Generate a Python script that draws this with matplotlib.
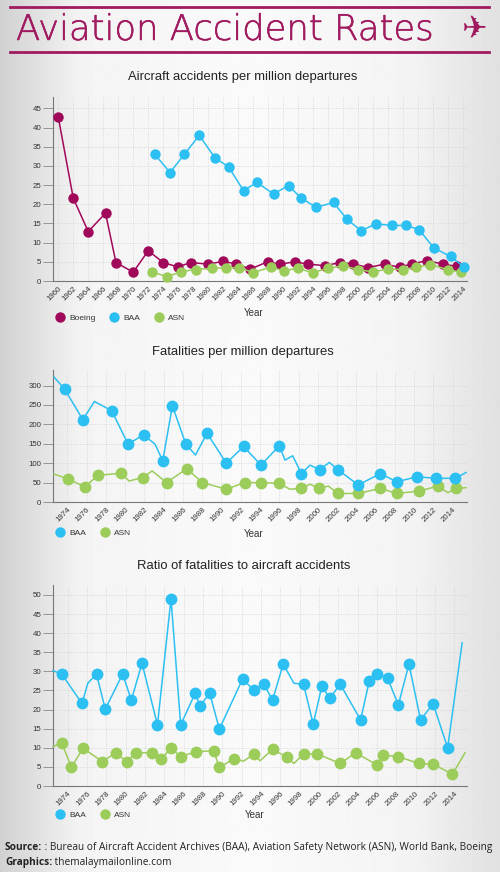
import numpy as np
import matplotlib
matplotlib.use("Agg")
import matplotlib.pyplot as plt
import matplotlib.patheffects as pe
from matplotlib.lines import Line2D

# --------------------------------------------------
# Data
# --------------------------------------------------
# Aircraft accidents per million departures
boeing_years = [1960, 1962, 1964, 1966.3, 1967.7, 1970, 1972, 1974, 1975.9, 1977.7,
                1980, 1981.9, 1983.7, 1985.6, 1987.9, 1989.6, 1991.5, 1993.3, 1995.6,
                1997.5, 1999.3, 2001.3, 2003.5, 2005.5, 2007.2, 2009.2, 2011.3, 2013.2]
boeing_acc = [42.8, 21.6, 12.9, 17.7, 4.8, 2.3, 7.9, 4.8, 3.7, 4.8,
              4.4, 5.1, 4.5, 3.1, 5.0, 4.4, 5.0, 4.4, 4.0,
              4.8, 4.5, 3.5, 4.4, 3.6, 4.5, 5.3, 4.4, 3.8]

baa_acc_years = [1972.9, 1974.9, 1976.8, 1978.8, 1980.9, 1982.7, 1984.7, 1986.5, 1988.7,
                 1990.7, 1992.4, 1994.4, 1996.7, 1998.5, 2000.4, 2002.3, 2004.5, 2006.4,
                 2008.1, 2010.1, 2012.3, 2014.1]
baa_acc = [33.0, 28.3, 33.0, 38.0, 32.1, 29.8, 23.6, 25.7, 22.7,
           24.9, 21.6, 19.2, 20.5, 16.1, 13.1, 14.9, 14.5, 14.5,
           13.4, 8.6, 6.4, 3.7]

asn_acc_years = [1972.5, 1974.5, 1976.3, 1978.3, 1980.5, 1982.4, 1984.1, 1986, 1988.3,
                 1990.1, 1991.9, 1993.9, 1996, 1998, 1999.9, 2001.9, 2004, 2006,
                 2007.7, 2009.6, 2011.9, 2013.7]
asn_acc = [2.4, 1.1, 2.4, 3.0, 3.3, 3.5, 3.5, 2.2, 3.6,
           2.7, 3.3, 2.2, 3.3, 4.0, 3.0, 2.4, 3.1, 3.0,
           3.6, 4.3, 3.0, 2.3]

# Fatalities per million departures (line vertices, markers flagged)
baa_fat_years = [1972.6, 1973.7, 1975.6, 1976.8, 1978.6, 1980.3, 1981.9, 1983.1, 1983.9,
                 1984.9, 1986.3, 1987.3, 1988.5, 1990.5, 1992.3, 1994.1, 1996, 1996.6,
                 1997.4, 1998.3, 1999.2, 2000.2, 2001.2, 2002.1, 2004.2, 2006.5, 2008.2,
                 2010.3, 2012.3, 2014.3, 2015.4]
baa_fat = [322, 291, 212, 259, 235, 149, 173, 149, 106,
           248, 149, 121, 177, 100, 143, 95, 145, 108,
           119, 73, 95, 83, 102, 83, 44, 73, 52,
           65, 61, 61, 76]
baa_fat_marked = [0, 1, 1, 0, 1, 1, 1, 0, 1,
                  1, 1, 0, 1, 1, 1, 1, 1, 0,
                  0, 1, 0, 1, 0, 1, 1, 1, 1,
                  1, 1, 1, 0]

asn_fat_years = [1972.6, 1974.1, 1975.8, 1977.2, 1979.6, 1980.4, 1981.8, 1982.8, 1984.3,
                 1986.4, 1988, 1990.5, 1992.4, 1994.1, 1996, 1997.1, 1998.3, 1999.2,
                 2000.1, 2001.1, 2002.1, 2004.2, 2006.5, 2008.2, 2010.5, 2012.5, 2013.5,
                 2014.4, 2015.4]
asn_fat = [72, 59, 39, 69, 74, 54, 63, 80, 50,
           86, 50, 33, 50, 50, 48, 33, 35, 46,
           35, 41, 22, 22, 35, 22, 28, 41, 24,
           35, 37]
asn_fat_marked = [0, 1, 1, 1, 1, 0, 1, 0, 1,
                  1, 1, 1, 1, 1, 1, 0, 1, 0,
                  1, 0, 1, 1, 1, 1, 1, 1, 0,
                  1, 0]

# Ratio of fatalities to aircraft accidents
baa_ratio_years = [1972.5, 1973.4, 1975.5, 1976.1, 1977, 1977.9, 1979.7, 1980.6, 1981.7,
                   1983.3, 1984.7, 1985.7, 1987.2, 1987.7, 1988.7, 1989.7, 1992.1, 1993.3,
                   1994.3, 1995.2, 1996.3, 1997.4, 1998.4, 1999.4, 2000.3, 2001.1, 2002.2,
                   2004.3, 2005.2, 2006, 2007.1, 2008.2, 2009.3, 2010.5, 2011.8, 2013.3,
                   2014.8]
baa_ratio = [30.2, 29.3, 21.6, 26.9, 29.3, 20.1, 29.3, 22.5, 32.1,
             16.0, 49.0, 16.0, 24.3, 20.9, 24.3, 14.9, 28.0, 25.0,
             26.6, 22.5, 31.9, 26.9, 26.6, 16.2, 26.2, 23.0, 26.6,
             17.3, 27.5, 29.3, 28.2, 21.2, 31.9, 17.3, 21.5, 10.0,
             37.5]
baa_ratio_marked = [0, 1, 1, 0, 1, 1, 1, 1, 1,
                    1, 1, 1, 1, 1, 1, 1, 1, 1,
                    1, 1, 1, 0, 1, 1, 1, 1, 1,
                    1, 1, 1, 1, 1, 1, 1, 1, 1,
                    0]

asn_ratio_years = [1972.5, 1973.4, 1974.4, 1975.6, 1977.6, 1979, 1980.1, 1981.1, 1982.7,
                   1983.7, 1984.7, 1985.7, 1987.3, 1989.1, 1989.7, 1991.2, 1992.2, 1993.3,
                   1993.9, 1995.2, 1996.7, 1997.4, 1998.4, 1999.8, 2002.2, 2003.8, 2006,
                   2006.6, 2008.2, 2010.3, 2011.8, 2013.8, 2015.1]
asn_ratio = [10.3, 11.3, 4.9, 9.9, 6.4, 8.7, 6.4, 8.7, 8.7,
             7.1, 9.9, 7.7, 9.0, 9.2, 4.9, 7.1, 6.5, 8.4,
             6.6, 9.6, 7.5, 5.9, 8.4, 8.4, 5.9, 8.7, 5.5,
             8.1, 7.7, 5.9, 5.7, 3.1, 8.7]
asn_ratio_marked = [0, 1, 1, 1, 1, 1, 1, 1, 1,
                    1, 1, 1, 1, 1, 1, 1, 0, 1,
                    0, 1, 1, 0, 1, 1, 1, 1, 1,
                    1, 1, 1, 1, 1, 0]

# --------------------------------------------------
# Styling
# --------------------------------------------------
W, H = 500, 872
MAG = "#a01a5f"
BOEING = "#a0085a"
BAA = "#2cc0f2"
ASN = "#9ccc5a"
TXT = "#333333"
FONT = "Liberation Sans"

plt.rcParams["font.family"] = [FONT, "DejaVu Sans"]


def px(x, y):
    return x / W, 1 - y / H


def rect(left, top, right, bottom):
    return [left / W, 1 - bottom / H, (right - left) / W, (bottom - top) / H]


fig = plt.figure(figsize=(W / 100, H / 100), dpi=100)

# soft grey gradient background
bg = fig.add_axes([0, 0, 1, 1], zorder=-10)
xs = np.linspace(0, 1, 400)
shade = np.interp(xs, [0, 0.16, 0.5, 0.82, 1], [0.82, 0.955, 0.98, 0.955, 0.88])
bg.imshow(np.tile(shade, (10, 1)), cmap="gray", vmin=0, vmax=1, aspect="auto",
          extent=[0, 1, 0, 1])
bg.set_axis_off()

# header
fig.add_artist(Line2D([10 / W, 489 / W], [1 - 7.5 / H] * 2, color=MAG, lw=2))
fig.add_artist(Line2D([10 / W, 489 / W], [1 - 52.5 / H] * 2, color=MAG, lw=2))
fig.text(*px(16, 40), "Aviation Accident Rates", fontsize=25.5, color=MAG,
         family="DejaVu Sans", fontweight="light", va="baseline", ha="left",
         path_effects=[pe.withStroke(linewidth=0.35, foreground=MAG)])
fig.text(*px(474, 29), "\u2708", fontsize=22, color=MAG, family="DejaVu Sans",
         va="center", ha="center")


def style_axes(ax, ylim, yticks, xlim, xticks):
    ax.set_facecolor("none")
    ax.set_xlim(*xlim)
    ax.set_ylim(*ylim)
    ax.set_yticks(yticks)
    ax.set_xticks(xticks)
    ax.set_xticklabels([str(x) for x in xticks], rotation=45, ha="right",
                       rotation_mode="anchor", fontsize=5.7, color=TXT)
    ax.tick_params(axis="y", labelsize=5.7, labelcolor=TXT, length=7, width=0.6,
                   color="#888888", pad=1.5)
    ax.tick_params(axis="x", length=0, pad=3)
    ax.grid(True, color="#d2d2d2", lw=0.6, ls=":")
    for s in ["top", "right"]:
        ax.spines[s].set_visible(False)
    for s in ["left", "bottom"]:
        ax.spines[s].set_color("#777777")
        ax.spines[s].set_linewidth(0.8)
    ax.set_axisbelow(True)


def add_series(ax, years, vals, color, marked=None, z=3, ms=7.5):
    ax.plot(years, vals, color=color, lw=1.1, zorder=z, clip_on=False)
    if marked is None:
        my, mv = years, vals
    else:
        my = [y for y, m in zip(years, marked) if m]
        mv = [v for v, m in zip(vals, marked) if m]
    ax.plot(my, mv, "o", color=color, ms=ms, mec="none", zorder=z, clip_on=False)


def add_legend(ax, items, x, y, xlabel_x, xlabel_y):
    handles = [Line2D([], [], marker="o", color=c, ls="none", ms=7.5, mec="none")
               for _, c in items]
    ax.legend(handles, [n for n, _ in items], loc="center left",
              bbox_to_anchor=px(x, y), bbox_transform=fig.transFigure, ncol=len(items),
              frameon=False, fontsize=6, handletextpad=0.1, columnspacing=1.2,
              labelcolor=TXT, borderaxespad=0, borderpad=0)
    fig.text(*px(xlabel_x, xlabel_y), "Year", fontsize=7, color=TXT,
             ha="center", va="center")


# --------------------------------------------------
# Chart 1: accidents per million departures
# --------------------------------------------------
fig.text(*px(243, 77), "Aircraft accidents per million departures", fontsize=9.4,
         color="#222222", ha="center", va="center")
ax1 = fig.add_axes(rect(53, 97, 467, 281))
style_axes(ax1, (0, 48), range(0, 50, 5), (1959.3, 2014.5), list(range(1960, 2015, 2)))
add_series(ax1, boeing_years, boeing_acc, BOEING, z=3)
add_series(ax1, asn_acc_years, asn_acc, ASN, z=4)
add_series(ax1, baa_acc_years, baa_acc, BAA, z=5)
add_legend(ax1, [("Boeing", BOEING), ("BAA", BAA), ("ASN", ASN)], 52, 318, 254, 313)

# --------------------------------------------------
# Chart 2: fatalities per million departures
# --------------------------------------------------
fig.text(*px(243, 352), "Fatalities per million departures", fontsize=9.4,
         color="#222222", ha="center", va="center")
ax2 = fig.add_axes(rect(53, 370, 467, 502))
style_axes(ax2, (0, 340), range(0, 301, 50), (1972.5, 2015.5), list(range(1974, 2015, 2)))
add_series(ax2, asn_fat_years, asn_fat, ASN, asn_fat_marked, z=3, ms=8.5)
add_series(ax2, baa_fat_years, baa_fat, BAA, baa_fat_marked, z=4, ms=8.5)
add_legend(ax2, [("BAA", BAA), ("ASN", ASN)], 52, 533, 254, 534)

# --------------------------------------------------
# Chart 3: ratio of fatalities to accidents
# --------------------------------------------------
fig.text(*px(244, 566), "Ratio of fatalities to aircraft accidents", fontsize=9.4,
         color="#222222", ha="center", va="center")
ax3 = fig.add_axes(rect(53, 585, 467, 786))
style_axes(ax3, (0, 52.6), range(0, 51, 5), (1972.5, 2015.3), list(range(1974, 2015, 2)))
add_series(ax3, asn_ratio_years, asn_ratio, ASN, asn_ratio_marked, z=3, ms=8.5)
add_series(ax3, baa_ratio_years, baa_ratio, BAA, baa_ratio_marked, z=4, ms=8.5)
add_legend(ax3, [("BAA", BAA), ("ASN", ASN)], 52, 815, 255, 815)

# --------------------------------------------------
# Footer: bold label, regular text placed right after it
# --------------------------------------------------
FOOT = dict(fontsize=7.3, family="Open Sans", color="#222222", va="center", ha="left")
src = fig.text(*px(5, 847), "Source:", fontweight="bold", **FOOT)
gfx = fig.text(*px(5, 862), "Graphics:", fontweight="bold", **FOOT)
fig.canvas.draw()
r = fig.canvas.get_renderer()
x_src = src.get_window_extent(r).x1 / fig.bbox.width
x_gfx = gfx.get_window_extent(r).x1 / fig.bbox.width
fig.text(x_src, 1 - 847 / H, " : Bureau of Aircraft Accident Archives (BAA), "
         "Aviation Safety Network (ASN), World Bank, Boeing", **FOOT)
fig.text(x_gfx, 1 - 862 / H, " themalaymailonline.com", **FOOT)

fig.savefig("out.png", dpi=100)
